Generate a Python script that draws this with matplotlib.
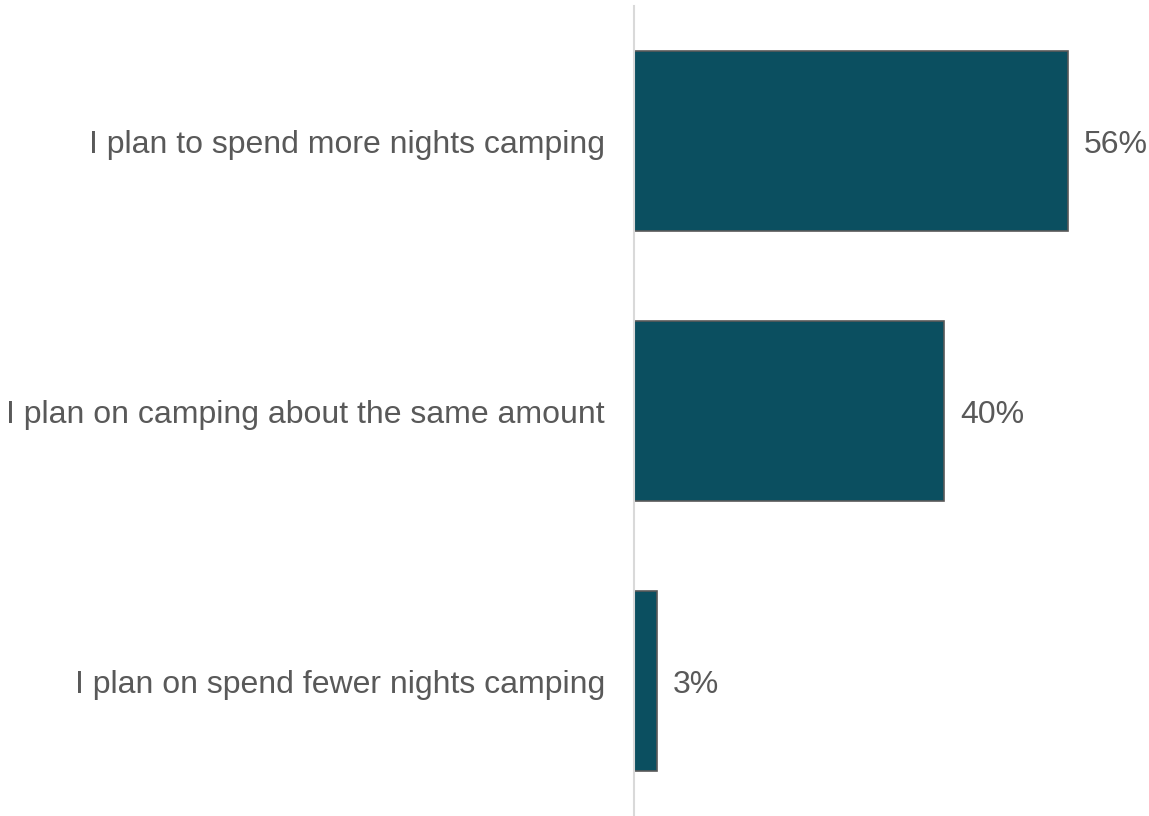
import matplotlib.pyplot as plt

plt.rcParams['font.family'] = ['Liberation Sans', 'DejaVu Sans']

# survey answers and their shares (%)
answers = [
    'I plan to spend more nights camping',
    'I plan on camping about the same amount',
    'I plan on spend fewer nights camping',
]
shares = [56, 40, 3]

bar_color = '#0B4F60'
text_color = '#595959'

fig = plt.figure(figsize=(11.49, 8.16), dpi=100)
ax = fig.add_axes([634 / 1149, 0.0, 1 - 634 / 1149, 1 - 6 / 816])

ypos = list(range(len(answers)))
ax.barh(ypos, shares, height=0.67, color=bar_color,
        edgecolor='#595959', linewidth=1.2)

for y, v in zip(ypos, shares):
    ax.text(v + 2.0, y, f'{v}%', va='center_baseline', ha='left',
            fontsize=23, color=text_color)

ax.set_xlim(0, 66.4)
ax.set_ylim(len(answers) - 0.5, -0.5)
ax.set_yticks(ypos)
ax.set_yticklabels(answers, fontsize=23, color=text_color)
ax.tick_params(axis='y', length=0, pad=21)
ax.set_xticks([])

for side in ['top', 'right', 'bottom']:
    ax.spines[side].set_visible(False)
ax.spines['left'].set_color('#D9D9D9')
ax.spines['left'].set_linewidth(1.5)

fig.savefig('out.png', dpi=100)
